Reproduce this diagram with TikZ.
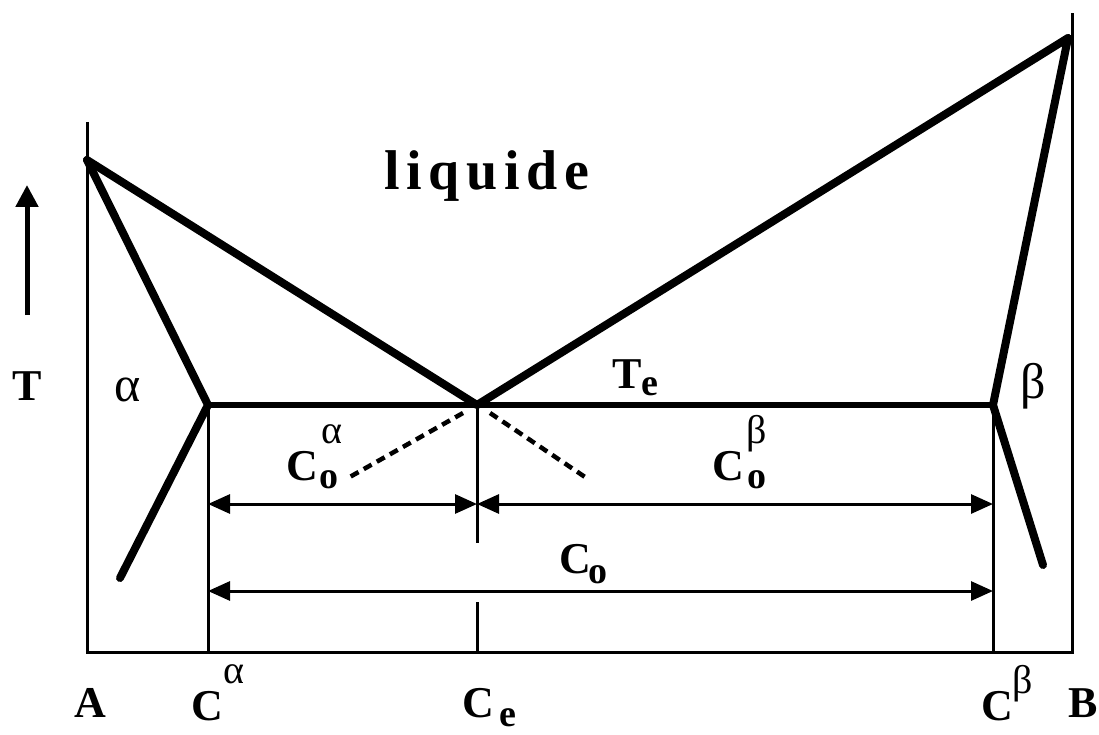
\documentclass[tikz,border=0pt]{standalone}
\usepackage{fontspec}
\setmainfont{Liberation Serif}
\usetikzlibrary{arrows.meta}
\begin{document}
\begin{tikzpicture}[x=1pt,y=-1pt,
  thickln/.style={line width=8pt,line cap=round,line join=round},
  thinln/.style={line width=3pt,line join=miter},
  dimarrow/.style={line width=3pt,{Triangle[length=22pt,width=19pt]}-{Triangle[length=22pt,width=19pt]}},
  dashln/.style={line width=4.5pt,dash pattern=on 9pt off 6pt},
  lbl/.style={font=\fontsize{44}{50}\selectfont\bfseries,inner sep=0pt,anchor=base},
  idx/.style={font=\fontsize{38}{42}\selectfont\bfseries,inner sep=0pt,anchor=base},
  greekidx/.style={font=\fontsize{40}{44}\selectfont,inner sep=0pt,anchor=base},
  greek/.style={font=\fontsize{50}{56}\selectfont,inner sep=0pt,anchor=base}
]
\useasboundingbox (0,0) rectangle (1099,735);

% key points
\coordinate (axLtop) at (87,122);
\coordinate (axLbot) at (87,652);
\coordinate (axRtop) at (1072,13);
\coordinate (axRbot) at (1072,652);
\coordinate (mA) at (87,160);
\coordinate (mB) at (1068,38);
\coordinate (E) at (477,405);
\coordinate (Pa) at (208,405);
\coordinate (Pb) at (993,405);
\coordinate (sa) at (120,578);
\coordinate (sb) at (1043,565);
\coordinate (Pabot) at (208,652);
\coordinate (Pbbot) at (993,652);
\coordinate (Ec1) at (477,543);
\coordinate (Ec2) at (477,602);
\coordinate (Ebot) at (477,652);
\coordinate (dL1) at (463,413);
\coordinate (dL2) at (348,478);
\coordinate (dR1) at (490,413);
\coordinate (dR2) at (585,477);
\coordinate (a1L) at (208,504);
\coordinate (a1M) at (477,504);
\coordinate (a1R) at (993,504);
\coordinate (a2L) at (208,591);
\coordinate (a2R) at (993,591);
\coordinate (Tbot) at (27,315);
\coordinate (Ttop) at (27,185);

% frame
\draw[thinln] (axLtop) -- (axLbot) -- (axRbot) -- (axRtop);

% verticals
\draw[thinln] (Pa) -- (Pabot);
\draw[thinln] (Pb) -- (Pbbot);
\draw[thinln] (E) -- (Ec1);
\draw[thinln] (Ec2) -- (Ebot);

% phase boundaries
\draw[thickln] (mA) -- (E) -- (mB);
\draw[thickln] (mA) -- (Pa) -- (sa);
\draw[thickln] (mB) -- (Pb) -- (sb);
\draw[line width=6pt] (Pa) -- (Pb);

% dashed
\draw[dashln] (dL1) -- (dL2);
\draw[dashln] (dR1) -- (dR2);

% dimension arrows
\draw[dimarrow] (a1L) -- (a1M);
\draw[dimarrow] (a1M) -- (a1R);
\draw[dimarrow] (a2L) -- (a2R);

% T arrow
\draw[line width=5pt,-{Triangle[length=22pt,width=22pt]}] (Tbot) -- (Ttop);

% labels
\node[font=\fontsize{56}{62}\selectfont\bfseries\addfontfeature{LetterSpace=12},inner sep=0pt,anchor=base] (liq) at (487,190) {liquide};
\node[lbl] (T) at (27,400) {T};
\node[greek] (alpha) at (128,401) {α};
\node[greek] (beta) at (1033,398) {β};
\node[lbl] (Te) at (627,388) {T};
\node[idx] (Tesub) at (650,395) {e};

\node[lbl] (Coa) at (302,480) {C};
\node[idx] (Coasub) at (329,488) {o};
\node[greekidx] (Coasup) at (332,443) {α};

\node[lbl] (Cob) at (728,480) {C};
\node[idx] (Cobsub) at (757,488) {o};
\node[greekidx] (Cobsup) at (757,443) {β};

\node[lbl] (Co) at (575,573) {C};
\node[idx] (Cosub) at (598,583) {o};

\node[lbl] (A) at (90,717) {A};
\node[lbl] (Ca) at (207,720) {C};
\node[greekidx] (Casup) at (234,683) {α};
\node[lbl] (Ce) at (478,717) {C};
\node[idx] (Cesub) at (508,726) {e};
\node[lbl] (Cb) at (997,720) {C};
\node[greekidx] (Cbsup) at (1023,693) {β};
\node[lbl] (B) at (1083,717) {B};
\end{tikzpicture}
\end{document}
